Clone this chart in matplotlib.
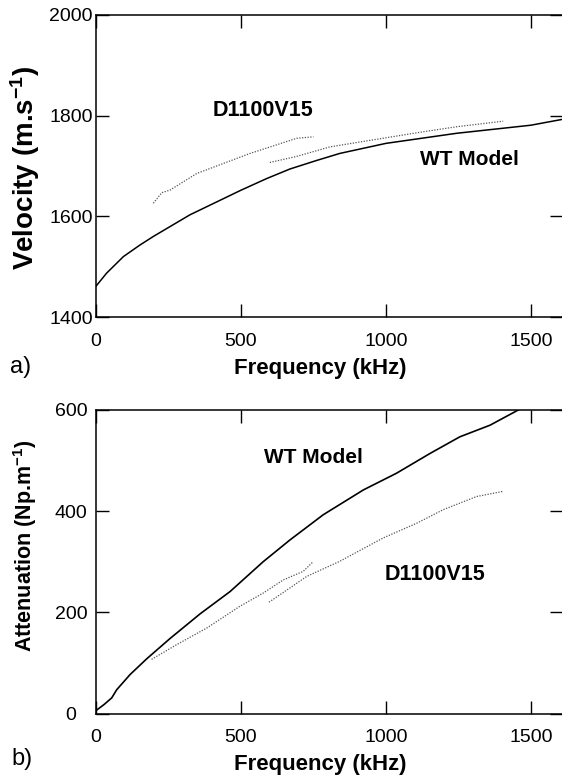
import matplotlib
matplotlib.use("Agg")
import matplotlib.pyplot as plt
import numpy as np

plt.rcParams.update({
    "font.family": ["Liberation Sans", "DejaVu Sans"],
    "mathtext.default": "regular",
    "axes.linewidth": 1.1,
    "xtick.direction": "in",
    "ytick.direction": "in",
    "xtick.top": True,
    "ytick.right": True,
    "xtick.major.size": 9.5,
    "ytick.major.size": 9.5,
    "xtick.major.width": 1.0,
    "ytick.major.width": 1.0,
    "xtick.labelsize": 14,
    "ytick.labelsize": 14,
})

# ------------------- data -------------------
# (a) phase velocity, m/s
vel_wt_f = [0, 38, 96, 153, 199, 325, 501, 589, 669, 761, 841, 1000, 1243, 1498, 1610]
vel_wt_v = [1460, 1487, 1520, 1543, 1560, 1603, 1652, 1675, 1694, 1711, 1725, 1745, 1765, 1781, 1793]

vel_d1_f = [199, 228, 256, 348, 440, 532, 623, 692, 750]
vel_d1_v = [1626, 1647, 1652, 1685, 1705, 1725, 1742, 1755, 1758]
vel_d2_f = [600, 692, 807, 956, 1128, 1243, 1403]
vel_d2_v = [1707, 1719, 1738, 1752, 1768, 1778, 1789]

# (b) attenuation, Np/m
att_wt_f = [0, 30, 56, 73, 119, 176, 256, 360, 463, 577, 669, 784, 922, 1036, 1151, 1254, 1358, 1455]
att_wt_a = [5, 18, 31, 47, 77, 108, 148, 197, 241, 300, 343, 393, 442, 475, 514, 547, 570, 600]

att_d1_f = [193, 279, 383, 497, 577, 646, 715, 747]
att_d1_a = [107, 136, 169, 212, 238, 264, 281, 299]
att_d2_f = [597, 727, 841, 990, 1105, 1197, 1312, 1401]
att_d2_a = [220, 271, 301, 347, 376, 403, 429, 439]

XMAX = 1609
W, H = 562, 775

fig = plt.figure(figsize=(W / 100, H / 100), dpi=100)
ax1 = fig.add_axes([95.5 / W, 1 - 317 / H, (563 - 95.5) / W, 302 / H])
ax2 = fig.add_axes([95.5 / W, 1 - 713.5 / H, (563 - 95.5) / W, 303.5 / H])

dot = dict(color="#555555", lw=0.9, ls=(0, (1, 1.2)))

ax1.plot(vel_wt_f, vel_wt_v, color="black", lw=1.1)
ax1.plot(vel_d1_f, vel_d1_v, **dot)
ax1.plot(vel_d2_f, vel_d2_v, **dot)
ax1.set_ylim(1400, 2000)
ax1.set_yticks([1400, 1600, 1800, 2000])
ax1.text(577, 1811, "D1100V15", fontsize=15.5, fontweight="bold", ha="center", va="center")
ax1.text(1286, 1713, "WT Model", fontsize=15, fontweight="bold", ha="center", va="center")
ax1.set_ylabel("Velocity (m.s$^{-1}$)", fontsize=20, fontweight="bold", va="center")
ax1.yaxis.set_label_coords(-0.151, 0.493)

ax2.plot(att_wt_f, att_wt_a, color="black", lw=1.2)
ax2.plot(att_d1_f, att_d1_a, **dot)
ax2.plot(att_d2_f, att_d2_a, **dot)
ax2.set_ylim(0, 600)
ax2.set_yticks([0, 200, 400, 600])
ax2.text(750, 506, "WT Model", fontsize=15, fontweight="bold", ha="center", va="center")
ax2.text(1168, 274, "D1100V15", fontsize=15.5, fontweight="bold", ha="center", va="center")
ax2.set_ylabel("Attenuation (Np.m$^{-1}$)", fontsize=15.5, fontweight="bold", va="center")
ax2.yaxis.set_label_coords(-0.151, 0.552)

for ax in (ax1, ax2):
    ax.set_xlim(0, XMAX)
    ax.set_xticks([0, 500, 1000, 1500])
    ax.set_xlabel("Frequency (kHz)", fontsize=16, fontweight="bold")
    ax.xaxis.set_label_coords(0.48, -0.135)
    ax.tick_params(axis="x", pad=11.5)
    ax.tick_params(axis="y", pad=17.6)
    plt.setp(ax.get_yticklabels(), ha="center")

fig.text(21 / W, 1 - 367 / H, "a)", fontsize=17, ha="center", va="center")
fig.text(22 / W, 1 - 759 / H, "b)", fontsize=17, ha="center", va="center")

fig.savefig("out.png", dpi=100)
